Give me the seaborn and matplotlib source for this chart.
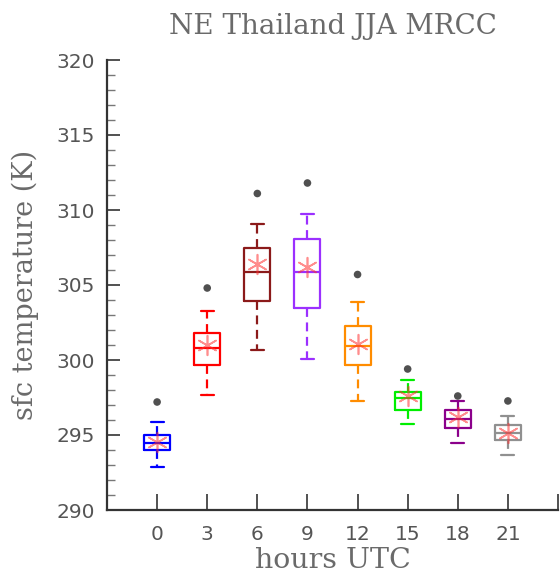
import numpy as np
import pandas as pd
import matplotlib
matplotlib.use("Agg")
import matplotlib.pyplot as plt
import seaborn as sns

hours = [0, 3, 6, 9, 12, 15, 18, 21]
whisker_low = [292.9, 297.7, 300.7, 300.1, 297.3, 295.75, 294.5, 293.65]
q1 = [294.0, 299.7, 303.95, 303.5, 299.7, 296.65, 295.5, 294.7]
median = [294.5, 300.8, 305.9, 305.85, 300.95, 297.45, 296.1, 295.13]
q3 = [294.98, 301.8, 307.5, 308.05, 302.3, 297.9, 296.65, 295.7]
whisker_high = [295.9, 303.3, 309.1, 309.75, 303.9, 298.65, 297.25, 296.25]
means = [294.55, 301.0, 306.4, 306.2, 301.05, 297.6, 296.2, 295.15]
outliers = [297.2, 304.8, 311.1, 311.8, 305.7, 299.4, 297.6, 297.27]
colors = ["#0000ff", "#ff0000", "#8b1a1a", "#9b30ff", "#ff8c00", "#00ee00", "#8b008b", "#909090"]

rows = []
for h, a, b, c, d, e in zip(hours, whisker_low, q1, median, q3, whisker_high):
    for v in (a, b, c, d, e):
        rows.append({"hour": h, "temp": v})
df = pd.DataFrame(rows)
df_mean = pd.DataFrame({"hour": hours, "temp": means})
df_out = pd.DataFrame({"hour": hours, "temp": outliers})

sns.set_theme(style="ticks")
txt = "#555555"
plt.rcParams["font.family"] = ["DejaVu Serif", "DejaVu Sans"]

fig = plt.figure(figsize=(5.6, 5.83), dpi=100)
ax = fig.add_axes([107 / 560, 1 - 510 / 583, (558 - 107) / 560, (510 - 60) / 583])

sns.boxplot(data=df, x="hour", y="temp", hue="hour", palette=colors, native_scale=True,
            fill=False, whis=np.inf, width=0.52, linewidth=1.6, legend=False, ax=ax,
            whiskerprops={"linestyle": (0, (4, 2.5))})
sns.scatterplot(data=df_out, x="hour", y="temp", color="#505050", s=30, edgecolor="none", ax=ax, zorder=5)
sns.scatterplot(data=df_mean, x="hour", y="temp", marker=(6, 2, 0), color="#ff3030", s=200,
                linewidth=1.2, alpha=0.55, ax=ax, zorder=6)

ax.set_xlim(-3, 24)
ax.set_ylim(290, 320)
ax.set_xticks([-3] + hours + [24])
ax.set_xticklabels([""] + [str(h) for h in hours] + [""])
ax.set_yticks(np.arange(290, 321, 5))
ax.set_yticks(np.arange(290, 321, 1), minor=True)
ax.tick_params(axis="y", which="major", direction="in", length=9.5, width=1.2, colors="#333333",
               labelcolor=txt, labelsize=14.5, pad=9)
ax.tick_params(axis="y", which="minor", direction="in", length=5.8, width=1.0, colors="#777777")
ax.tick_params(axis="x", which="major", direction="in", length=11.5, width=1.2, colors="#333333",
               labelcolor=txt, labelsize=14.5, pad=11)
for lab in ax.get_xticklabels() + ax.get_yticklabels():
    lab.set_family("DejaVu Sans")
for s in ["top", "right"]:
    ax.spines[s].set_visible(False)
for s in ["left", "bottom"]:
    ax.spines[s].set_linewidth(1.6)
    ax.spines[s].set_color("#333333")

tcol = "#6a6a6a"
ax.set_xlabel("hours UTC", fontsize=20.5, color=tcol, labelpad=2)
ax.set_ylabel("sfc temperature (K)", fontsize=19.5, color=tcol, labelpad=12)
ax.set_title("NE Thailand JJA MRCC", fontsize=20, color=tcol, pad=19)

fig.savefig("out.png", dpi=100)
